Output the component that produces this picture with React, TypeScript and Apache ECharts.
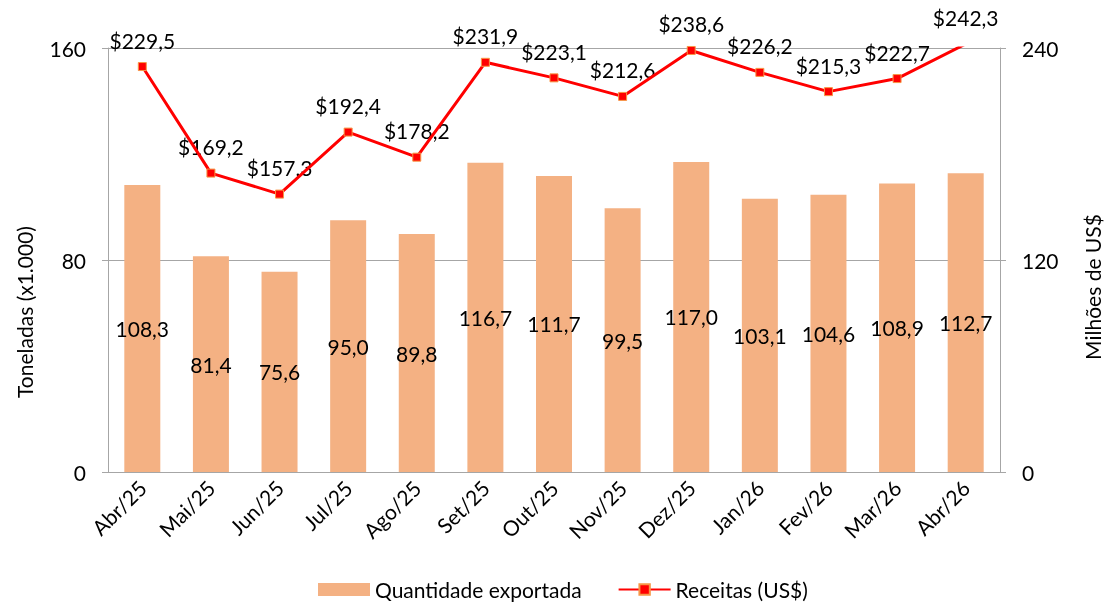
import React, { useEffect, useRef } from "react";
import * as echarts from "echarts";

const categories = ["Abr/25", "Mai/25", "Jun/25", "Jul/25", "Ago/25", "Set/25", "Out/25", "Nov/25", "Dez/25", "Jan/26", "Fev/26", "Mar/26", "Abr/26"];
const quantidade = [108.3, 81.4, 75.6, 95.0, 89.8, 116.7, 111.7, 99.5, 117.0, 103.1, 104.6, 108.9, 112.7];
const receitas = [229.5, 169.2, 157.3, 192.4, 178.2, 231.9, 223.1, 212.6, 238.6, 226.2, 215.3, 222.7, 242.3];
const leftTicks = { min: 0, max: 160, interval: 80 };
const rightTicks = { min: 0, max: 240, interval: 120 };

const FONT = "Lato";
const FS = 21;
const fmt = (v: number) => v.toFixed(1).replace(".", ",");

export default function App() {
  const ref = useRef<HTMLDivElement>(null);
  useEffect(() => {
    if (!ref.current) return;
    const chart = echarts.init(ref.current, null, { renderer: "svg" });
    const axisGrey = "#A6A6A6";
    chart.setOption({
      animation: false,
      textStyle: { fontFamily: FONT },
      grid: { left: 108, right: 104, top: 48, bottom: 130 },
      legend: {
        top: 574,
        left: 313,
        itemGap: 36,
        itemWidth: 52,
        itemHeight: 13,
        textStyle: { fontFamily: FONT, fontSize: FS, color: "#000" },
        data: [
          { name: "Quantidade exportada", icon: "rect" },
          { name: "Receitas (US$)" },
        ],
      },
      xAxis: {
        type: "category",
        data: categories,
        boundaryGap: true,
        axisLine: { lineStyle: { color: axisGrey } },
        axisTick: { alignWithLabel: false, length: 6, lineStyle: { color: axisGrey } },
        axisLabel: { rotate: 45, fontSize: FS, color: "#000", margin: 12, fontFamily: FONT },
      },
      yAxis: [
        {
          type: "value",
          ...leftTicks,
          axisLine: { show: true, lineStyle: { color: axisGrey } },
          axisTick: { show: true, length: 6, lineStyle: { color: axisGrey } },
          splitLine: { lineStyle: { color: axisGrey } },
          axisLabel: { fontSize: FS, color: "#000", margin: 22, fontFamily: FONT },
        },
        {
          type: "value",
          ...rightTicks,
          axisLine: { show: true, lineStyle: { color: axisGrey } },
          axisTick: { show: true, length: 6, lineStyle: { color: axisGrey } },
          splitLine: { show: false },
          axisLabel: { fontSize: FS, color: "#000", margin: 22, fontFamily: FONT },
        },
      ],
      graphic: [
        {
          type: "text",
          x: 24,
          y: 312,
          rotation: Math.PI / 2,
          style: { text: "Toneladas (x1.000)", fontSize: FS, fontFamily: FONT, fill: "#000", align: "center", verticalAlign: "middle" },
        },
        {
          type: "text",
          x: 1092,
          y: 287,
          rotation: Math.PI / 2,
          style: { text: "Milhões de US$", fontSize: FS, fontFamily: FONT, fill: "#000", align: "center", verticalAlign: "middle" },
        },
      ],
      series: [
        {
          name: "Quantidade exportada",
          type: "bar",
          data: quantidade,
          barWidth: 36,
          itemStyle: { color: "#F4B183" },
          label: {
            show: true,
            position: "inside",
            formatter: (p: any) => fmt(p.value),
            fontSize: FS,
            color: "#000",
            fontFamily: FONT,
          },
        },
        {
          name: "Receitas (US$)",
          type: "line",
          yAxisIndex: 1,
          data: receitas,
          clip: true,
          symbol: "rect",
          symbolSize: 8,
          lineStyle: { color: "#FF0000", width: 3 },
          itemStyle: { color: "#FF0000", borderColor: "#F79646", borderWidth: 1 },
          label: { show: false },
        },
        {
          name: "Receitas labels",
          type: "scatter",
          yAxisIndex: 1,
          data: receitas,
          clip: false,
          symbol: "rect",
          symbolSize: 8,
          silent: true,
          itemStyle: { color: "rgba(0,0,0,0)", opacity: 1 },
          label: {
            show: true,
            position: "top",
            distance: 12,
            formatter: (p: any) => "$" + fmt(p.value),
            fontSize: FS,
            color: "#000",
            opacity: 1,
            fontFamily: FONT,
          },
        },
      ],
    });
    return () => chart.dispose();
  }, []);
  return <div ref={ref} style={{ position: "fixed", left: 0, top: 0, width: 1104, height: 602 }} />;
}
